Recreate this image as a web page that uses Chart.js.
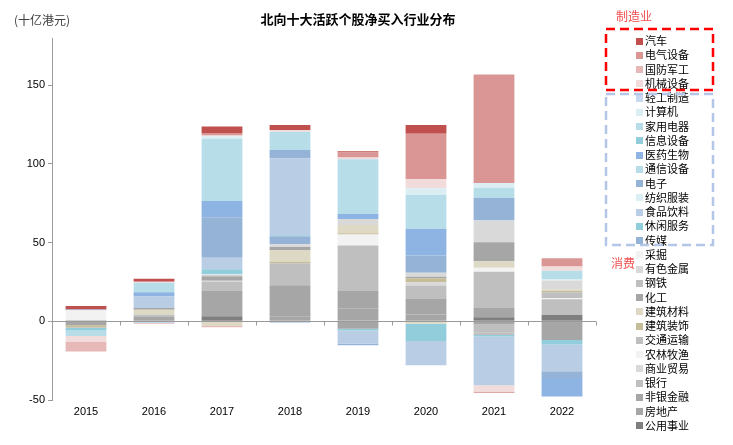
<!DOCTYPE html>
<html>
<head>
<meta charset="utf-8">
<script src="https://cdn.jsdelivr.net/npm/chart.js@4.4.0/dist/chart.umd.min.js"></script>
<style>
  body { margin: 0; background: #fff; }
</style>
</head>
<body>
<canvas id="flow_chart" width="733" height="445"></canvas>
<script>
const years = ["2015", "2016", "2017", "2018", "2019", "2020", "2021", "2022"];
const yTicks = [-50, 0, 50, 100, 150];

// net buying per industry, 十亿港元, one value per year
const autos = [2.3, 1.9, 4.2, 3.2, 0.9, 5.7, -0.6, 0];
const electrical = [0, 0, 1.6, 0, 3.2, 28.9, 69, 5.3];
const defense = [-6.4, -0.5, -0.8, 0, 0, 0, 0, 0];
const machinery = [-3.4, 0.6, 0.5, 1.2, 1, 5.7, -4, 2.7];
const lightMfg = [0, -1, 0, -1, 0, 0, 0, 0];
const computers = [0, 0, 1.5, 0, 0, 4.3, 3, 0];
const appliances = [-3.6, 6, 39.5, 11.5, 34.8, 21.4, 0, 5.3];
const infoEquip = [-1.5, 0, 0, 0, 0, 0, 0, 0];
const pharma = [0, 2.7, 10.4, 0, 3.2, 17, 0, -11.7];
const telecom = [0, 0, 0, 0, 0, 0, 6.4, 0];
const electronics = [0.5, 0, 25.7, 5.3, -0.9, 11, 14.4, -4.2];
const textiles = [0, 0, 0, 0, 0, 0, 0, 0.9];
const foodBev = [0, 7.4, 7.4, 49, -8.5, -15.5, -31, -17];
const leisure = [0, 0, 3.2, 0.6, -1, -11, -1, -3];
const media = [0, 0, 0, 5.1, 0, 0, 0, 0];
const mining = [6.4, 0, 0.6, 0, 0, 0, 0, 0];
const metals = [0, 0, 0, 1.7, 3.8, 2.5, 13.8, 5.5];
const steel = [-0.6, 0, 1, 0, 0, 0, -1.7, 0];
const chemicals = [0, 1, 2.4, 1.9, -4.8, 1, 12, 0];
const buildMat = [0, 3.2, -3, 7.4, 5.3, -1.5, 4.2, 1];
const buildDeco = [-1.2, 0, 0, 1, 0.7, 2.5, 0, 1];
const transport = [0, 1.5, 0, 14, 0, 0, -5, 3.6];
const agri = [0, 0, 0, 0, 7, 0, 2.5, 0.8];
const commerce = [0, 0, 0.8, 0, 0, 2.1, 0, 0];
const banks = [0, 0, 5.7, 0, 29, 8.5, 23, 10];
const nonBank = [0.6, 2.7, 14, 19.7, 11.2, 9.8, 6, -3.8];
const realEstate = [-2.5, 0, 2.1, 3.2, 8, 4.4, -2, -8];
const utilities = [0, 0, 3.2, 0, 0, 0, 2.5, 4];

// legend order (top of stack first)
const industries = ["汽车", "电气设备", "国防军工", "机械设备", "轻工制造", "计算机", "家用电器",
    "信息设备", "医药生物", "通信设备", "电子", "纺织服装", "食品饮料", "休闲服务", "传媒",
    "采掘", "有色金属", "钢铁", "化工", "建筑材料", "建筑装饰", "交通运输", "农林牧渔",
    "商业贸易", "银行", "非银金融", "房地产", "公用事业"];
const industryValues = [autos, electrical, defense, machinery, lightMfg, computers, appliances,
    infoEquip, pharma, telecom, electronics, textiles, foodBev, leisure, media,
    mining, metals, steel, chemicals, buildMat, buildDeco, transport, agri,
    commerce, banks, nonBank, realEstate, utilities];
const colors = ["#C0504D", "#D99694", "#E6B9B8", "#F2DCDB", "#C6D9F0", "#DAEEF3", "#B7DEE8",
    "#92CDDC", "#8EB4E3", "#B7DEE8", "#95B3D7", "#DAEEF3", "#B9CDE5", "#92CDDC", "#95B3D7",
    "#F2F2F2", "#D9D9D9", "#BFBFBF", "#A6A6A6", "#DDD9C4", "#C4BD97", "#BFBFBF", "#F2F2F2",
    "#D9D9D9", "#BFBFBF", "#A6A6A6", "#A6A6A6", "#7F7F7F"];

const FONT = "'Liberation Sans', 'Noto Sans CJK SC', sans-serif";
const CJK = "'Noto Sans CJK SC', sans-serif";
const axisGray = "#9a9a9a";

// bottom of stack is the last legend entry
const datasets = industries.map((name, i) => ({
    label: name,
    data: industryValues[i],
    backgroundColor: colors[i],
    borderWidth: 0,
    categoryPercentage: 0.8,
    barPercentage: 0.75,
})).reverse();

const extras = {
    id: "extras",
    afterDatasetsDraw(chart) {
        const { ctx, scales: { x, y } } = chart;
        const y0 = Math.round(y.getPixelForValue(0)) + 0.5;
        ctx.save();
        ctx.strokeStyle = axisGray;
        ctx.lineWidth = 1;
        ctx.beginPath();
        ctx.moveTo(x.left, y0);
        ctx.lineTo(x.right, y0);
        const step = x.width / years.length;
        for (let i = 1; i <= years.length; i++) {
            const px = Math.round(x.left + i * step) + 0.5;
            ctx.moveTo(px, y0);
            ctx.lineTo(px, y0 + 4);
        }
        ctx.stroke();
        ctx.restore();
    },
    afterDraw(chart) {
        const ctx = chart.ctx;
        ctx.save();
        ctx.textBaseline = "middle";

        ctx.fillStyle = "#000";
        ctx.font = "bold 13px " + CJK;
        ctx.textAlign = "center";
        ctx.fillText("北向十大活跃个股净买入行业分布", 358, 19);

        ctx.fillStyle = "#404040";
        ctx.font = "12px " + CJK;
        ctx.textAlign = "left";
        ctx.fillText("(十亿港元)", 14, 20);

        // legend
        ctx.font = "11px " + CJK;
        industries.forEach((name, i) => {
            const cy = 41 + i * 14.25;
            ctx.fillStyle = colors[i];
            ctx.fillRect(636, Math.round(cy - 3.5), 7, 7);
            ctx.fillStyle = "#000";
            ctx.fillText(name, 645, cy);
        });

        ctx.fillStyle = "#F25050";
        ctx.font = "12px " + CJK;
        ctx.fillText("制造业", 616, 16);
        ctx.fillText("消费", 611, 263);

        ctx.lineWidth = 2.5;
        ctx.setLineDash([9, 5]);
        ctx.strokeStyle = "#FF0000";
        ctx.strokeRect(606, 29, 107, 61);
        ctx.strokeStyle = "#B4C6E7";
        ctx.strokeRect(606, 94, 107, 151);
        ctx.restore();
    },
};

new Chart(document.getElementById("flow_chart"), {
    type: "bar",
    data: { labels: years, datasets: datasets },
    plugins: [extras],
    options: {
        responsive: false,
        animation: false,
        layout: { padding: { top: 38, right: 137, bottom: 0, left: 0 } },
        plugins: {
            legend: { display: false },
            tooltip: { enabled: false },
            title: { display: false },
        },
        scales: {
            x: {
                stacked: true,
                grid: { display: false, drawTicks: false },
                border: { display: false },
                ticks: { color: "#000", font: { family: FONT, size: 11 }, padding: 5 },
                afterFit: (scale) => { scale.height = 45; },
            },
            y: {
                stacked: true,
                min: -50,
                max: 180,
                grid: { drawOnChartArea: false, tickLength: 4, color: axisGray, tickColor: axisGray },
                border: { color: axisGray, width: 1 },
                ticks: { stepSize: 50, color: "#000", font: { family: FONT, size: 11 }, padding: 3 },
                afterBuildTicks: (scale) => {
                    scale.ticks = yTicks.map((v) => ({ value: v }));
                },
                afterFit: (scale) => { scale.width = 52; },
            },
        },
    },
});
</script>
</body>
</html>
